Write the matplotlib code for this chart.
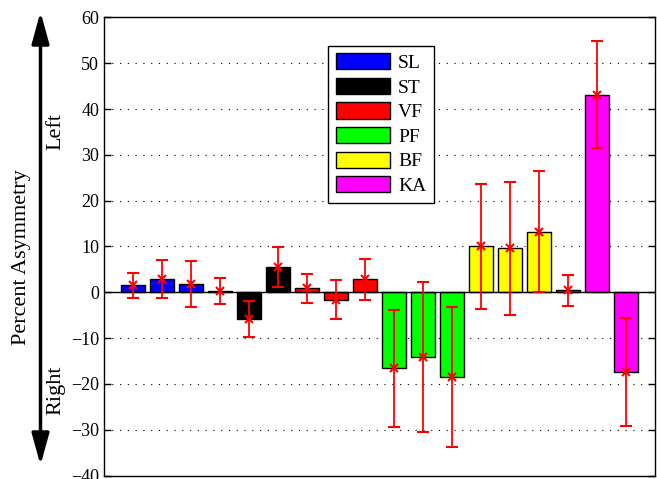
import numpy as np
import matplotlib
matplotlib.use("Agg")
import matplotlib.pyplot as plt
from matplotlib.patches import Patch

plt.rcParams['font.family'] = ['Liberation Serif', 'DejaVu Serif']

groups = ['SL', 'ST', 'VF', 'PF', 'BF', 'KA']
colors = ['#0000ff', '#000000', '#ff0000', '#00ff00', '#ffff00', '#ff00ff']

# three bars per group, in group order
values = [1.5, 2.9, 1.8,
          0.3, -5.9, 5.5,
          0.9, -1.6, 2.8,
          -16.6, -14.1, -18.5,
          10.0, 9.6, 13.2,
          0.4, 43.1, -17.4]
errors = [2.8, 4.1, 5.1,
          2.9, 3.9, 4.4,
          3.2, 4.2, 4.5,
          12.8, 16.4, 15.2,
          13.6, 14.5, 13.2,
          3.3, 11.7, 11.7]

x = np.arange(1, len(values) + 1)
bar_colors = [c for c in colors for _ in range(3)]

fig = plt.figure(figsize=(6.57, 4.79), dpi=100)
ax = fig.add_axes([104/657, 1 - 475.5/479, (655 - 104)/657, (475.5 - 17.5)/479])

ax.bar(x, values, width=0.8, color=bar_colors, edgecolor='black', linewidth=1, zorder=2)
ax.axhline(0, color='black', lw=1, zorder=2.5)
ax.errorbar(x, values, yerr=errors, fmt='x', color='red', ecolor='red',
            elinewidth=1.3, capsize=4, capthick=1.5, markersize=6, mew=1.5, zorder=3)

ax.set_xlim(0, 19)
ax.set_ylim(-40, 60)
ax.set_yticks(range(-40, 61, 10))
ax.set_xticks([])
ax.tick_params(axis='y', direction='in', right=True, length=5, labelsize=13, width=1)
for yv in range(-30, 51, 10):
    if yv != 0:
        ax.axhline(yv, color='black', lw=0.8, ls=(0, (1, 6)), zorder=1)
for s in ax.spines.values():
    s.set_linewidth(1)

handles = [Patch(facecolor=c, edgecolor='black', lw=1) for c in colors]
leg = ax.legend(handles, groups, loc='upper left', bbox_to_anchor=(328/657, 1 - 45.5/479),
                bbox_transform=fig.transFigure, fontsize=14, handlelength=2.8,
                handleheight=0.9, labelspacing=0.3, handletextpad=0.4,
                borderaxespad=0, fancybox=False, framealpha=1, edgecolor='black',
                borderpad=0.4)
leg.get_frame().set_linewidth(1)

# double arrow and side labels
fig.patches.append(matplotlib.patches.FancyArrowPatch(
    (40.5, 470), (40.5, 11), transform=None, arrowstyle='<|-|>,head_length=1.2,head_width=0.33',
    mutation_scale=16, color='black', lw=2.5))
fig.text(22/657, 1 - 257/479, 'Percent Asymmetry', rotation=90, fontsize=16,
         ha='center', va='center')
fig.text(56/657, 1 - 132/479, 'Left', rotation=90, fontsize=16, ha='center', va='center')
fig.text(56/657, 1 - 390/479, 'Right', rotation=90, fontsize=16, ha='center', va='center')

fig.savefig('out.png', dpi=100)
